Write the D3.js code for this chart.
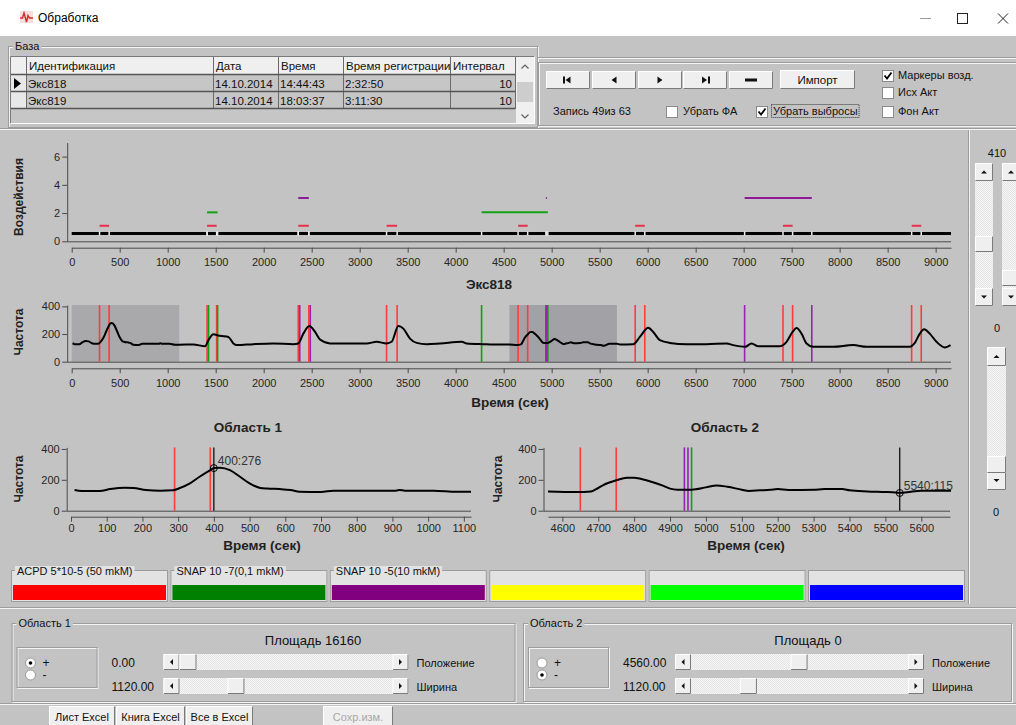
<!DOCTYPE html>
<html lang="ru">
<head>
<meta charset="utf-8">
<title>Обработка</title>
<script src="https://cdn.jsdelivr.net/npm/d3@7/dist/d3.min.js"></script>
<style>
  html, body { margin: 0; padding: 0; background: #c3c3c3; overflow: hidden; }
  svg { display: block; }
  text { font-family: "Liberation Sans", Arial, sans-serif; }
</style>
</head>
<body>
<svg id="app" width="1016" height="725"></svg>
<script>
// ---------- record table ----------
const tableColumns = ["Идентификация", "Дата", "Время", "Время регистрации", "Интервал"];
const tableRows = [
  ["Экс818", "14.10.2014", "14:44:43", "2:32:50", "10"],
  ["Экс819", "14.10.2014", "18:03:37", "3:11:30", "10"]
];
const recordName = "Экс818";
const recordCounter = "Запись 49из 63";
const recordLength = 9160;

// ---------- frequency trace: time (s) and value ----------
const freqTime = [
  10, 30, 80, 110, 150, 175, 210, 250, 285, 305, 333, 360, 390, 400, 418, 445, 473, 500, 530, 550,
  585, 615, 640, 700, 735, 830, 910, 920, 935, 1015, 1080, 1120,
  1267, 1389, 1424, 1476, 1500, 1545, 1632, 1684, 1719, 1892, 2101, 2309, 2361, 2413, 2476, 2535,
  2587, 2691, 2899, 3073, 3177, 3281, 3333, 3403, 3455, 3524, 3594, 3698, 3837, 4063, 4115, 4288,
  4461, 4560, 4640, 4680, 4700, 4720, 4750, 4780, 4800, 4820, 4850, 4880, 4900, 4920, 4960, 5000,
  5030, 5060, 5100, 5120, 5150, 5180, 5200, 5230, 5300, 5330, 5380, 5400, 5450, 5500, 5520, 5540,
  5560, 5600, 5640, 5680, 5711, 5850, 5919, 6006, 6058, 6127, 6231, 6405, 6613, 6822, 6891, 7016,
  7082, 7152, 7377, 7447, 7509, 7551, 7603, 7655, 7724, 7933, 8141, 8280, 8731, 8783, 8835, 8880,
  8939, 9009, 9096, 9155
];
const freqValue = [
  134, 127, 127, 140, 149, 147, 134, 130, 132, 147, 177, 220, 263, 276, 279, 263, 220, 177, 147, 143,
  140, 134, 123, 121, 130, 130, 130, 134, 130, 130, 123, 123,
  124, 112, 156, 199, 195, 187, 179, 132, 120, 127, 132, 127, 132, 203, 258, 215,
  160, 132, 132, 132, 144, 132, 144, 258, 239, 167, 136, 127, 132, 144, 132, 127,
  124, 125, 121, 125, 147, 173, 197, 214, 214, 205, 186, 162, 143, 136, 136, 151,
  164, 155, 136, 128, 132, 136, 140, 134, 136, 140, 140, 132, 125, 121, 119, 115,
  119, 130, 130, 130, 124, 127, 179, 246, 215, 156, 136, 127, 127, 132, 120, 108,
  132, 112, 112, 144, 215, 244, 203, 132, 108, 108, 120, 108, 108, 136, 203, 234,
  203, 144, 103, 120
];

// ---------- application intervals (s) ----------
const acpdIntervals  = [[290, 390], [1410, 1510], [2360, 2470], [3280, 3390], [4650, 4750], [5870, 5970], [7410, 7510], [8750, 8850]];
const snap7Intervals = [[1410, 1520], [4270, 4960]];
const snap5Intervals = [[2360, 2470], [4940, 4950], [7010, 7710]];
const effectLevels = [1.1, 2.05, 3.07];
const controlLevel = 0.55;

// ---------- legend ----------
const legendLabels = ["ACPD 5*10-5 (50 mkM)", "SNAP 10 -7(0,1 mkM)", "SNAP 10 -5(10 mkM)", "", "", ""];
const legendColors = ["#ff0000", "#008000", "#800080", "#ffff00", "#00ff00", "#0000ff"];

// ---------- analysis areas ----------
const areaNames = ["Область 1", "Область 2"];
const areaStart = [0, 4560];
const areaWidth = [1120, 1120];
const areaSquare = [16160, 0];
const areaSign = ["+", "-"];
const cursorTime = [400, 5540];
const cursorValue = [276, 115];

// ---------- ticks ----------
const fullTimeTicks = [0, 500, 1000, 1500, 2000, 2500, 3000, 3500, 4000, 4500, 5000, 5500, 6000, 6500, 7000, 7500, 8000, 8500, 9000];
const area1Ticks = [0, 100, 200, 300, 400, 500, 600, 700, 800, 900, 1000, 1100];
const area2Ticks = [4600, 4700, 4800, 4900, 5000, 5100, 5200, 5300, 5400, 5500, 5600];
const effectTicks = [0, 2, 4, 6];
const freqTicks = [0, 200, 400];
const freqMax = 410;
const effectMax = 7;

// ---------- controls ----------
const checkLabels = ["Маркеры возд.", "Исх Акт", "Фон Акт"];
const checkStates = [true, false, false];
const optionLabels = ["Убрать ФА", "Убрать выбросы"];
const optionStates = [false, true];
const sideValues = ["410", "0", "0"];
const excelButtons = ["Лист Excel", "Книга Excel", "Все в Excel", "Сохр.изм."];

// =====================================================================
const BG = "#c3c3c3";
const svg = d3.select("#app");
const defs = svg.append("defs");
const pat = defs.append("pattern").attr("id", "track").attr("width", 2).attr("height", 2).attr("patternUnits", "userSpaceOnUse");
pat.append("rect").attr("width", 2).attr("height", 2).attr("fill", "#f6f6f6");
pat.append("rect").attr("width", 1).attr("height", 1).attr("fill", "#e4e4e4");
pat.append("rect").attr("x", 1).attr("y", 1).attr("width", 1).attr("height", 1).attr("fill", "#e4e4e4");

svg.append("rect").attr("width", 1016).attr("height", 725).attr("fill", BG);

// ---------- widget helpers ----------
function raised(g, x, y, w, h, fill) {
  g.append("rect").attr("x", x).attr("y", y).attr("width", w).attr("height", h).attr("fill", fill || "#efefef");
  g.append("path").attr("d", `M${x + 0.5},${y + h - 0.5}V${y + 0.5}H${x + w - 0.5}`).attr("stroke", "#ffffff").attr("fill", "none");
  g.append("path").attr("d", `M${x + 0.5},${y + h - 0.5}H${x + w - 0.5}V${y + 0.5}`).attr("stroke", "#7a7a7a").attr("fill", "none");
}
function sunken(g, x, y, w, h, fill) {
  g.append("rect").attr("x", x).attr("y", y).attr("width", w).attr("height", h).attr("fill", fill || "none");
  g.append("path").attr("d", `M${x + 0.5},${y + h - 0.5}V${y + 0.5}H${x + w - 0.5}`).attr("stroke", "#7a7a7a").attr("fill", "none");
  g.append("path").attr("d", `M${x + 0.5},${y + h - 0.5}H${x + w - 0.5}V${y + 0.5}`).attr("stroke", "#ffffff").attr("fill", "none");
}
function etched(g, x, y, w, h) {
  g.append("rect").attr("x", x + 1.5).attr("y", y + 1.5).attr("width", w - 1).attr("height", h - 1).attr("fill", "none").attr("stroke", "#f4f4f4");
  g.append("rect").attr("x", x + 0.5).attr("y", y + 0.5).attr("width", w - 1).attr("height", h - 1).attr("fill", "none").attr("stroke", "#9c9c9c");
}
function hEtch(g, x1, x2, y) {
  g.append("line").attr("x1", x1).attr("x2", x2).attr("y1", y + 0.5).attr("y2", y + 0.5).attr("stroke", "#9c9c9c");
  g.append("line").attr("x1", x1).attr("x2", x2).attr("y1", y + 1.5).attr("y2", y + 1.5).attr("stroke", "#f4f4f4");
}
function vEtch(g, x, y1, y2) {
  g.append("line").attr("x1", x + 0.5).attr("x2", x + 0.5).attr("y1", y1).attr("y2", y2).attr("stroke", "#9c9c9c");
  g.append("line").attr("x1", x + 1.5).attr("x2", x + 1.5).attr("y1", y1).attr("y2", y2).attr("stroke", "#f4f4f4");
}
function groupBox(g, x, y, w, h, label, fill) {
  etched(g, x, y, w, h);
  if (label) {
    const t = g.append("text").attr("x", x + 7).attr("y", y + 4).attr("font-size", 11).attr("fill", "#111").text(label);
    const len = t.node().getComputedTextLength();
    g.insert("rect", () => t.node()).attr("x", x + 5).attr("y", y - 5).attr("width", len + 4).attr("height", 11).attr("fill", fill || BG);
  }
}
function checkbox(g, x, y, on) {
  g.append("rect").attr("x", x + 0.5).attr("y", y + 0.5).attr("width", 11).attr("height", 11).attr("fill", "#ffffff").attr("stroke", "#8a8a8a");
  if (on) g.append("path").attr("d", `M${x + 2.5},${y + 5.5}l2.5,3l4.5,-6`).attr("stroke", "#000").attr("stroke-width", 1.8).attr("fill", "none");
}
function radio(g, cx, cy, on) {
  g.append("circle").attr("cx", cx).attr("cy", cy).attr("r", 5).attr("fill", "#ffffff").attr("stroke", "#9a9a9a");
  if (on) g.append("circle").attr("cx", cx).attr("cy", cy).attr("r", 1.8).attr("fill", "#000");
}
function tri(g, cx, cy, dir) {
  const d = {
    left:  `M${cx + 1.5},${cy - 3}L${cx - 1.5},${cy}L${cx + 1.5},${cy + 3}Z`,
    right: `M${cx - 1.5},${cy - 3}L${cx + 1.5},${cy}L${cx - 1.5},${cy + 3}Z`,
    up:    `M${cx - 3},${cy + 1.5}L${cx},${cy - 1.5}L${cx + 3},${cy + 1.5}Z`,
    down:  `M${cx - 3},${cy - 1.5}L${cx},${cy + 1.5}L${cx + 3},${cy - 1.5}Z`
  }[dir];
  g.append("path").attr("d", d).attr("fill", "#111");
}
function hScroll(g, x, y, w, h, thumbX, thumbW) {
  g.append("rect").attr("x", x).attr("y", y).attr("width", w).attr("height", h).attr("fill", "url(#track)");
  raised(g, x, y, h, h); tri(g, x + h / 2, y + h / 2, "left");
  raised(g, x + w - h, y, h, h); tri(g, x + w - h / 2, y + h / 2, "right");
  raised(g, thumbX, y, thumbW, h);
}
function vScroll(g, x, y, w, h, thumbY, thumbH) {
  g.append("rect").attr("x", x).attr("y", y).attr("width", w).attr("height", h).attr("fill", "url(#track)");
  raised(g, x, y, w, w); tri(g, x + w / 2, y + w / 2, "up");
  raised(g, x, y + h - w, w, w); tri(g, x + w / 2, y + h - w / 2, "down");
  raised(g, x, thumbY, w, thumbH);
}
function txt(g, x, y, s, size, anchor, fill, weight) {
  return g.append("text").attr("x", x).attr("y", y).attr("font-size", size || 11)
    .attr("text-anchor", anchor || "start").attr("fill", fill || "#111").attr("font-weight", weight || "normal").text(s);
}

// ---------- title bar ----------
const gTitle = svg.append("g");
gTitle.append("rect").attr("width", 1016).attr("height", 36).attr("fill", "#ffffff");
gTitle.append("rect").attr("x", 20).attr("y", 11).attr("width", 13).attr("height", 12).attr("fill", "#f4dede");
gTitle.append("path").attr("d", "M20,18H22.5L24,13L26.5,22L28,15.5L29.5,18H33").attr("stroke", "#d42a2a").attr("stroke-width", 1.4).attr("fill", "none");
txt(gTitle, 38, 22, "Обработка", 12, "start", "#000");
gTitle.append("line").attr("x1", 920).attr("x2", 931).attr("y1", 18.5).attr("y2", 18.5).attr("stroke", "#9a9a9a");
gTitle.append("rect").attr("x", 957.5).attr("y", 13.5).attr("width", 10).attr("height", 10).attr("fill", "none").attr("stroke", "#222");
gTitle.append("path").attr("d", "M998,13.5L1008,23.5M1008,13.5L998,23.5").attr("stroke", "#222").attr("stroke-width", 1);

// ---------- record table ----------
const gBase = svg.append("g");
groupBox(gBase, 8, 46, 530, 82, "База");
const colX = [11, 26, 213, 278, 343, 450, 515];
const rowY = [57, 75, 92, 109];
sunken(gBase, 10, 56, 525, 68, "#c6c6c6");
for (let c = 0; c < colX.length - 1; c++) {
  gBase.append("rect").attr("x", colX[c]).attr("y", rowY[0]).attr("width", colX[c + 1] - colX[c]).attr("height", rowY[1] - rowY[0]).attr("fill", "#efefef");
}
for (let r = 1; r <= tableRows.length; r++) {
  gBase.append("rect").attr("x", colX[0]).attr("y", rowY[r]).attr("width", colX[1] - colX[0]).attr("height", rowY[r + 1] - rowY[r]).attr("fill", "#e8e8e8");
}
colX.slice(1).forEach(x => gBase.append("line").attr("x1", x + 0.5).attr("x2", x + 0.5).attr("y1", rowY[0]).attr("y2", rowY[3]).attr("stroke", "#6a6a6a"));
rowY.slice(1).forEach(y => gBase.append("line").attr("x1", colX[0]).attr("x2", colX[6]).attr("y1", y - 0.5).attr("y2", y - 0.5).attr("stroke", "#555").attr("stroke-width", 1.5));
tableColumns.forEach((c, i) => txt(gBase, colX[i + 1] + 3, rowY[0] + 13, c, 11.5, "start", "#111"));
tableRows.forEach((row, r) => {
  row.forEach((v, i) => {
    if (i === 4) txt(gBase, colX[6] - 3, rowY[r + 1] + 13, v, 11.5, "end", "#111");
    else txt(gBase, colX[i + 1] + 2, rowY[r + 1] + 13, v, 11.5, "start", "#111");
  });
});
gBase.append("path").attr("d", `M14,${rowY[1] + 3}L21,${rowY[1] + 8.5}L14,${rowY[1] + 14}Z`).attr("fill", "#000");
gBase.append("rect").attr("x", 516).attr("y", 57).attr("width", 18).attr("height", 66).attr("fill", "#f0f0f0");
gBase.append("rect").attr("x", 517).attr("y", 82).attr("width", 16).attr("height", 20).attr("fill", "#cdcdcd");
gBase.append("path").attr("d", "M521.5,68.5L525,65L528.5,68.5").attr("stroke", "#606060").attr("stroke-width", 1.2).attr("fill", "none");
gBase.append("path").attr("d", "M521.5,114.5L525,118L528.5,114.5").attr("stroke", "#606060").attr("stroke-width", 1.2).attr("fill", "none");

// ---------- navigation panel ----------
const gNav = svg.append("g");
hEtch(gNav, 538, 1016, 57);
etched(gNav, 538, 62, 480, 64);
const navX = [546, 592, 638, 683, 729];
navX.forEach((x, i) => {
  raised(gNav, x, 71, 44, 18);
  const cx = x + 22, cy = 80;
  if (i === 0) {
    gNav.append("rect").attr("x", cx - 5).attr("y", cy - 3.5).attr("width", 2).attr("height", 7).attr("fill", "#111");
    gNav.append("path").attr("d", `M${cx + 2.5},${cy - 3.5}L${cx - 2.5},${cy}L${cx + 2.5},${cy + 3.5}Z`).attr("fill", "#111");
  } else if (i === 1) {
    gNav.append("path").attr("d", `M${cx + 2.5},${cy - 3.5}L${cx - 2.5},${cy}L${cx + 2.5},${cy + 3.5}Z`).attr("fill", "#111");
  } else if (i === 2) {
    gNav.append("path").attr("d", `M${cx - 2.5},${cy - 3.5}L${cx + 2.5},${cy}L${cx - 2.5},${cy + 3.5}Z`).attr("fill", "#111");
  } else if (i === 3) {
    gNav.append("path").attr("d", `M${cx - 3},${cy - 3.5}L${cx + 2},${cy}L${cx - 3},${cy + 3.5}Z`).attr("fill", "#111");
    gNav.append("rect").attr("x", cx + 3).attr("y", cy - 3.5).attr("width", 2).attr("height", 7).attr("fill", "#111");
  } else {
    gNav.append("rect").attr("x", cx - 6).attr("y", cy - 1.5).attr("width", 12).attr("height", 3).attr("fill", "#111");
  }
});
raised(gNav, 780, 70, 75, 19);
txt(gNav, 817.5, 84, "Импорт", 11.5, "middle");
txt(gNav, 553, 115, recordCounter, 11);
optionLabels.forEach((lab, i) => {
  const bx = [666, 756][i];
  checkbox(gNav, bx, 106, optionStates[i]);
  const t = txt(gNav, bx + 17, 115, lab, 11);
  if (i === 1) {
    const len = t.node().getComputedTextLength();
    gNav.append("rect").attr("x", bx + 15.5).attr("y", 104.5).attr("width", len + 3).attr("height", 13)
      .attr("fill", "none").attr("stroke", "#333").attr("stroke-dasharray", "1,1");
  }
});
checkLabels.forEach((lab, i) => {
  const by = [70, 87, 106][i];
  checkbox(gNav, 882, by, checkStates[i]);
  txt(gNav, 898, by + 9, lab, 11);
});

// ---------- frames of the chart area ----------
const gFrame = svg.append("g");
hEtch(gFrame, 0, 1016, 128);
vEtch(gFrame, 968, 130, 604);

// ---------- scales ----------
const xFull = d3.scaleLinear().domain([0, recordLength]).range([71.7, 951]);
const yEff = d3.scaleLinear().domain([0, effectMax]).range([241.3, 142.5]);
const yFreq = d3.scaleLinear().domain([0, freqMax]).range([361.7, 305]);
const xArea = [
  d3.scaleLinear().domain([areaStart[0], areaStart[0] + areaWidth[0]]).range([71, 471]),
  d3.scaleLinear().domain([areaStart[1], areaStart[1] + areaWidth[1]]).range([548, 950])
];
const yArea = d3.scaleLinear().domain([0, freqMax]).range([510.7, 447.4]);

const trace = freqTime.map((t, i) => ({ t, v: freqValue[i] }));
const substances = [
  { intervals: acpdIntervals,  dash: "#e8304a", mark: "#ff3b3b" },
  { intervals: snap7Intervals, dash: "#14a014", mark: "#0ea00e" },
  { intervals: snap5Intervals, dash: "#8e1a96", mark: "#9a22b0" }
];

function styleAxis(sel) {
  sel.attr("font-family", '"Liberation Sans", Arial, sans-serif').attr("font-size", 11);
  sel.select(".domain").attr("stroke", "#4a4a4a");
  sel.selectAll(".tick line").attr("stroke", "#4a4a4a");
  sel.selectAll(".tick text").attr("fill", "#262626");
}
function chartFrame(g, x, y, yTicks, xTicks, yAxisX, xAxisY, xPad) {
  const ya = g.append("g").attr("transform", `translate(${yAxisX},0)`)
    .call(d3.axisLeft(y).tickValues(yTicks).tickFormat(d3.format("d")).tickSize(5).tickSizeOuter(0).tickPadding(2));
  styleAxis(ya);
  const xa = g.append("g").attr("transform", `translate(0,${xAxisY})`)
    .call(d3.axisBottom(x).tickValues(xTicks).tickFormat(d3.format("d")).tickSize(5).tickSizeOuter(0).tickPadding(xPad));
  styleAxis(xa);
  g.append("line").attr("x1", yAxisX).attr("x2", x.range()[1]).attr("y1", y(0) + 0.5).attr("y2", y(0) + 0.5).attr("stroke", "#4a4a4a");
}
function markerLines(g, x, yTop, yBottom) {
  const [d0, d1] = x.domain();
  const used = new Map();
  substances.forEach(s => {
    s.intervals.forEach(iv => {
      iv.forEach(t => {
        if (t < d0 || t > d1) return;
        const k = Math.round(x(t));
        const n = used.get(k) || 0;
        used.set(k, n + 1);
        const px = x(t) + n * 1.5;
        g.append("line").attr("x1", px).attr("x2", px).attr("y1", yTop).attr("y2", yBottom)
          .attr("stroke", s.mark).attr("stroke-width", 1.6);
      });
    });
  });
}
function rotLabel(g, x, y, s) {
  g.append("text").attr("transform", `translate(${x},${y}) rotate(-90)`).attr("text-anchor", "middle")
    .attr("font-size", 12).attr("font-weight", "bold").attr("fill", "#222").text(s);
}

// ---------- effects chart ----------
const gTop = svg.append("g");
chartFrame(gTop, xFull, yEff, effectTicks, fullTimeTicks, 67.2, 247.7, 6);
gTop.append("line").attr("x1", xFull(0)).attr("x2", xFull(recordLength))
  .attr("y1", yEff(controlLevel)).attr("y2", yEff(controlLevel)).attr("stroke", "#000").attr("stroke-width", 3);
const boundaries = [];
substances.forEach(s => s.intervals.forEach(iv => boundaries.push(iv[0], iv[1])));
boundaries.forEach(t => gTop.append("rect").attr("x", xFull(t) - 0.75).attr("y", yEff(controlLevel) - 2)
  .attr("width", 1.5).attr("height", 4).attr("fill", "#eeeeee"));
substances.forEach((s, i) => s.intervals.forEach(iv => {
  gTop.append("line").attr("x1", xFull(iv[0])).attr("x2", Math.max(xFull(iv[1]), xFull(iv[0]) + 1))
    .attr("y1", yEff(effectLevels[i])).attr("y2", yEff(effectLevels[i]))
    .attr("stroke", s.dash).attr("stroke-width", 2);
}));
rotLabel(gTop, 22.5, 197, "Воздействия");
txt(gTop, 489, 289, recordName, 13.5, "middle", "#222", "bold");

// ---------- full frequency chart ----------
const gMid = svg.append("g");
areaStart.forEach((s, i) => {
  gMid.append("rect").attr("x", xFull(s)).attr("y", yFreq(freqMax))
    .attr("width", xFull(s + areaWidth[i]) - xFull(s)).attr("height", yFreq(0) - yFreq(freqMax))
    .attr("fill", i === 0 ? "#a9a9ac" : "#a2a2a6");
});
chartFrame(gMid, xFull, yFreq, freqTicks, fullTimeTicks, 67.2, 368.3, 6);
markerLines(gMid, xFull, yFreq(freqMax), yFreq(0));
gMid.append("path").datum(trace)
  .attr("d", d3.line().x(d => xFull(d.t)).y(d => yFreq(d.v)).curve(d3.curveMonotoneX))
  .attr("fill", "none").attr("stroke", "#000").attr("stroke-width", 2).attr("stroke-linejoin", "round");
rotLabel(gMid, 22.5, 332, "Частота");
txt(gMid, 510, 407, "Время (сек)", 13.5, "middle", "#222", "bold");

// ---------- area charts ----------
const areaLayout = [
  { yAxisX: 66.7, titleX: 248, timeX: 262, labelX: 23, ticks: area1Ticks },
  { yAxisX: 543.5, titleX: 725, timeX: 746, labelX: 502, ticks: area2Ticks }
];
areaLayout.forEach((L, i) => {
  const g = svg.append("g");
  const x = xArea[i];
  chartFrame(g, x, yArea, freqTicks, L.ticks, L.yAxisX, 516.7, 3);
  markerLines(g, x, yArea(freqMax), yArea(0));
  const clipId = "clipArea" + i;
  defs.append("clipPath").attr("id", clipId).append("rect")
    .attr("x", x.range()[0]).attr("y", 430).attr("width", x.range()[1] - x.range()[0] + 1).attr("height", 90);
  const pts = trace.filter(d => d.t >= x.domain()[0] - 60 && d.t <= x.domain()[1] + 60);
  g.append("path").datum(pts).attr("clip-path", `url(#${clipId})`)
    .attr("d", d3.line().x(d => x(d.t)).y(d => yArea(d.v)).curve(d3.curveMonotoneX))
    .attr("fill", "none").attr("stroke", "#000").attr("stroke-width", 2).attr("stroke-linejoin", "round");
  const cx = x(cursorTime[i]), cy = yArea(cursorValue[i]);
  g.append("line").attr("x1", cx).attr("x2", cx).attr("y1", yArea(freqMax)).attr("y2", yArea(0)).attr("stroke", "#000").attr("stroke-width", 1.2);
  g.append("circle").attr("cx", cx).attr("cy", cy).attr("r", 3.5).attr("fill", "none").attr("stroke", "#000").attr("stroke-width", 1);
  txt(g, cx + 4, cy - 3, `${cursorTime[i]}:${cursorValue[i]}`, 12, "start", "#333");
  txt(g, L.titleX, 432, areaNames[i], 13.5, "middle", "#222", "bold");
  txt(g, L.timeX, 550, "Время (сек)", 13.5, "middle", "#222", "bold");
  rotLabel(g, L.labelX, 479, "Частота");
});

// ---------- legend strip ----------
const gLeg = svg.append("g");
legendLabels.forEach((lab, i) => {
  const x0 = 11 + i * 159.4, w = 157;
  gLeg.append("rect").attr("x", x0).attr("y", 570).attr("width", w).attr("height", 32).attr("fill", "#e2e2e2");
  gLeg.append("rect").attr("x", x0 + 0.5).attr("y", 570.5).attr("width", w - 1).attr("height", 31).attr("fill", "none").attr("stroke", "#9c9c9c");
  gLeg.append("rect").attr("x", x0 + 2).attr("y", 585).attr("width", w - 4).attr("height", 15).attr("fill", legendColors[i]);
  if (lab) {
    const t = txt(gLeg, x0 + 6, 575, lab, 11, "start", "#111");
    const len = t.node().getComputedTextLength();
    gLeg.insert("rect", () => t.node()).attr("x", x0 + 4).attr("y", 566).attr("width", len + 4).attr("height", 12).attr("fill", "#e2e2e2");
  }
});

// ---------- side scrollbars ----------
const gSide = svg.append("g");
txt(gSide, 997, 157, sideValues[0], 11, "middle");
vScroll(gSide, 975, 163, 18, 143, 236, 16);
vScroll(gSide, 1002, 163, 18, 143, 270, 16);
txt(gSide, 997, 332, sideValues[1], 11, "middle");
vScroll(gSide, 987, 347, 19, 143, 456, 17);
txt(gSide, 996, 516, sideValues[2], 11, "middle");

// ---------- area controls ----------
const gCtl = svg.append("g");
hEtch(gCtl, 0, 1016, 607);
hEtch(gCtl, 0, 1016, 703);
const posScale = d3.scaleLinear().domain([0, recordLength]).range([0, 1]);
const widthScale = d3.scaleLinear().domain([0, recordLength / 2]).range([0, 1]);
const groupX = [11.5, 523], groupW = [504, 489], sbW = [245, 249], squareX = [313, 808];
areaNames.forEach((name, i) => {
  const gx = groupX[i];
  groupBox(gCtl, gx, 623, groupW[i], 79, name);
  txt(gCtl, squareX[i], 645, `Площадь ${areaSquare[i]}`, 13, "middle", "#111");
  etched(gCtl, gx + 5, 647, 81, 41);
  radio(gCtl, gx + 19, 663, areaSign[i] === "+");
  radio(gCtl, gx + 19, 675, areaSign[i] === "-");
  txt(gCtl, gx + 31, 667, "+", 12);
  txt(gCtl, gx + 31, 679, "-", 12);
  txt(gCtl, gx + 100, 667, areaStart[i].toFixed(2), 12);
  txt(gCtl, gx + 100, 691, areaWidth[i].toFixed(2), 12);
  const sx = gx + 152;
  const travel = sbW[i] - 32 - 17;
  hScroll(gCtl, sx, 654, sbW[i], 16, sx + 16 + posScale(areaStart[i]) * travel, 17);
  hScroll(gCtl, sx, 678, sbW[i], 16, sx + 16 + widthScale(areaWidth[i]) * travel, 17);
  txt(gCtl, sx + sbW[i] + 8, 667, "Положение", 11);
  txt(gCtl, sx + sbW[i] + 8, 691, "Ширина", 11);
});

// ---------- export buttons ----------
const btnX = [49, 116, 186, 323], btnW = [66, 69, 67, 70];
excelButtons.forEach((lab, i) => {
  raised(gCtl, btnX[i], 706, btnW[i], 22, "#efefef");
  txt(gCtl, btnX[i] + btnW[i] / 2, 721, lab, 11, "middle", i === 3 ? "#a8a8a8" : "#111");
});
</script>
</body>
</html>
